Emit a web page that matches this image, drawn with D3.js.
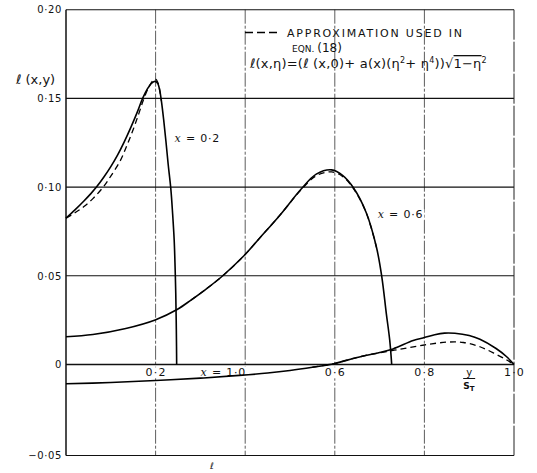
<!DOCTYPE html>
<html>
<head>
<meta charset="utf-8">
<script src="https://cdnjs.cloudflare.com/ajax/libs/d3/7.8.5/d3.min.js"></script>
<style>
  html, body { margin: 0; padding: 0; background: #fff; }
  svg { display: block; }
  text { font-family: "DejaVu Sans", sans-serif; fill: #111; }
</style>
</head>
<body>
<svg id="chart" width="537" height="473"></svg>
<script>
// Spanwise distribution ℓ(x, y) against y/sT for three chordwise stations x.
// Each series is a list of [y/sT, ℓ] pairs.

const xTicks = [0.2, 0.6, 0.8, 1.0];
const xTickLabels = ["0·2", "0·6", "0·8", "1·0"];
const xGrid = [0.2, 0.4, 0.6, 0.8];
const yTicks = [-0.05, 0, 0.05, 0.10, 0.15, 0.20];
const yTickLabels = ["−0·05", "0", "0·05", "0·10", "0·15", "0·20"];

// x = 0.2 : exact and approximation
const exact02 = [
  [0, 0.0825], [0.02, 0.0872], [0.04, 0.0922], [0.055, 0.0962], [0.068, 0.1000],
  [0.085, 0.1058], [0.10, 0.1115], [0.115, 0.1180], [0.13, 0.1255], [0.145, 0.1338],
  [0.16, 0.1428], [0.171, 0.1500], [0.182, 0.1555], [0.192, 0.1588], [0.199, 0.1596],
  [0.205, 0.1583], [0.209, 0.1548], [0.213, 0.1485], [0.218, 0.1380], [0.223, 0.1260],
  [0.228, 0.1130], [0.234, 0.0990], [0.238, 0.0850], [0.2415, 0.0700], [0.2435, 0.0550],
  [0.245, 0.0400], [0.246, 0.0250], [0.2467, 0.0100], [0.247, 0]
];
const approx02 = [
  [0, 0.0825], [0.02, 0.0855], [0.04, 0.0890], [0.06, 0.0935], [0.083, 0.1000],
  [0.10, 0.1062], [0.121, 0.1148], [0.136, 0.1235], [0.15, 0.1325], [0.162, 0.1410],
  [0.172, 0.1485], [0.185, 0.1565], [0.195, 0.1603], [0.200, 0.1608], [0.205, 0.1590],
  [0.209, 0.1550], [0.213, 0.1485]
];

// x = 0.6 : exact and approximation
const exact06 = [
  [0, 0.0156], [0.06, 0.0169], [0.1335, 0.0203], [0.199, 0.0251], [0.248, 0.0310],
  [0.279, 0.0363], [0.309, 0.0418], [0.348, 0.0496], [0.396, 0.0610], [0.432, 0.0712],
  [0.4765, 0.0839], [0.525, 0.0989], [0.5586, 0.1073], [0.593, 0.1097], [0.618, 0.1065],
  [0.642, 0.0995], [0.670, 0.0857], [0.693, 0.0661], [0.705, 0.0493], [0.715, 0.0287],
  [0.7226, 0.0137], [0.727, 0]
];
const approx06 = [
  [0.279, 0.0363], [0.309, 0.0418], [0.348, 0.0496], [0.396, 0.0610], [0.432, 0.0712],
  [0.4765, 0.0839], [0.525, 0.0985], [0.5586, 0.1064], [0.593, 0.1086], [0.62, 0.1055],
  [0.642, 0.0990], [0.670, 0.0857], [0.693, 0.0661]
];

// x = 1.0 : exact and approximation
const exact10 = [
  [0, -0.0106], [0.1, -0.0099], [0.2, -0.0088], [0.3, -0.0075], [0.387, -0.0060],
  [0.45, -0.0047], [0.5, -0.0033], [0.55, -0.0015], [0.6, 0.0006], [0.65, 0.0040],
  [0.7, 0.0068], [0.73, 0.0088], [0.775, 0.0135], [0.8, 0.0152], [0.823, 0.0168],
  [0.845, 0.0177], [0.868, 0.0176], [0.9, 0.0163], [0.924, 0.0142], [0.96, 0.0090],
  [0.983, 0.0045], [1.0, 0]
];
const approx10 = [
  [0.55, -0.0015], [0.6, 0.0006], [0.65, 0.0040], [0.7, 0.0066], [0.75, 0.0088],
  [0.8, 0.0110], [0.85, 0.0126], [0.887, 0.0124], [0.924, 0.0100], [0.9605, 0.0057],
  [0.983, 0.0027], [1.0, 0]
];

const svg = d3.select("#chart");

const x = d3.scaleLinear().domain([0, 1]).range([66, 514]);
const y = d3.scaleLinear().domain([-0.05, 0, 0.20]).range([455.5, 364.5, 9.7]);

// vertical grid (broken thin rules)
svg.append("g").selectAll("line").data(xGrid).join("line")
  .attr("x1", d => x(d)).attr("x2", d => x(d))
  .attr("y1", y(0.20)).attr("y2", y(-0.05))
  .attr("stroke", "#333").attr("stroke-width", 0.8)
  .attr("stroke-dasharray", "14,2,3,2");

// horizontal rules
svg.append("g").selectAll("line").data(yTicks).join("line")
  .attr("x1", x(0)).attr("x2", x(1))
  .attr("y1", d => y(d)).attr("y2", d => y(d))
  .attr("stroke", "#111")
  .attr("stroke-width", d => d === 0 ? 1.6 : 1.1);

// left axis and right border
svg.append("line").attr("x1", x(0)).attr("x2", x(0))
  .attr("y1", y(0.20)).attr("y2", y(-0.05))
  .attr("stroke", "#111").attr("stroke-width", 1.5);
svg.append("line").attr("x1", x(1)).attr("x2", x(1))
  .attr("y1", y(0.20)).attr("y2", y(-0.05))
  .attr("stroke", "#222").attr("stroke-width", 1)
  .attr("stroke-dasharray", "30,2");

// y tick labels
const yAxis = d3.axisLeft(y).tickValues(yTicks)
  .tickFormat((d, i) => yTickLabels[i]).tickSize(0).tickPadding(4);
const gy = svg.append("g").attr("transform", `translate(${x(0)},0)`).call(yAxis);
gy.select(".domain").remove();
gy.selectAll("text").style("font-size", "10px").style("font-family", "DejaVu Sans")
  .attr("letter-spacing", "0.6");

// x tick labels just under the zero line, on a white ground that breaks the rules
const xAxis = d3.axisBottom(x).tickValues(xTicks)
  .tickFormat((d, i) => xTickLabels[i]).tickSize(0).tickPadding(3);
const gx = svg.append("g").attr("transform", `translate(0,${y(0) + 1})`).call(xAxis);
gx.select(".domain").remove();
gx.selectAll("text").style("font-size", "11px").style("font-family", "DejaVu Sans")
  .attr("letter-spacing", "1.2");
gx.selectAll(".tick").filter(d => d < 1).each(function () {
  const t = d3.select(this).select("text");
  const b = t.node().getBBox();
  d3.select(this).insert("rect", "text")
    .attr("x", b.x - 1).attr("y", b.y + 1)
    .attr("width", b.width + 2).attr("height", b.height - 2).attr("fill", "#fff");
});

// curve labels (placed under the curves so the curves stay whole)
const curveLabels = [
  { t: "0·2", px: 0.2, py: 0.1255, dx: 19 },
  { t: "0·6", px: 0.6, py: 0.0825, dx: 43 },
  { t: "1·0", px: 0.2, py: -0.0063, dx: 45 }
];
const lab = svg.append("g");
curveLabels.forEach(c => {
  const tx = lab.append("text")
    .attr("x", x(c.px) + c.dx).attr("y", y(c.py))
    .style("font-size", "11px").attr("letter-spacing", "0.8");
  tx.append("tspan").style("font-family", "DejaVu Serif").style("font-style", "italic").text("x");
  tx.append("tspan").text(" = " + c.t);
});
lab.selectAll("text").each(function () {
  const b = this.getBBox();
  lab.insert("rect", "text").attr("x", b.x - 1).attr("y", b.y + 1)
    .attr("width", b.width + 2).attr("height", b.height - 2).attr("fill", "#fff");
});

// curves
const line = d3.line().x(d => x(d[0])).y(d => y(d[1])).curve(d3.curveCatmullRom.alpha(0.5));
const solid = [exact02, exact06, exact10];
const dashed = [approx02, approx06, approx10];
svg.append("g").selectAll("path").data(solid).join("path")
  .attr("d", line).attr("fill", "none").attr("stroke", "#000")
  .attr("stroke-width", 1.6).attr("stroke-linejoin", "round");
svg.append("g").selectAll("path").data(dashed).join("path")
  .attr("d", line).attr("fill", "none").attr("stroke", "#000")
  .attr("stroke-width", 1.3).attr("stroke-dasharray", "6,4");

// y/sT on the abscissa
const fx = x(0.9);
svg.append("text").attr("x", fx).attr("y", y(0) + 11).attr("text-anchor", "middle")
  .style("font-size", "10px").text("y");
svg.append("line").attr("x1", fx - 6).attr("x2", fx + 6)
  .attr("y1", y(0) + 14).attr("y2", y(0) + 14).attr("stroke", "#111").attr("stroke-width", 1);
const st = svg.append("text").attr("x", fx - 6).attr("y", y(0) + 24)
  .style("font-size", "9px").style("font-weight", "bold");
st.append("tspan").text("S");
st.append("tspan").attr("dy", 2).style("font-size", "7px").text("T");

// ordinate title
svg.append("text").attr("x", 16).attr("y", 84).style("font-size", "13px")
  .text("ℓ (x,y)");

// small mark under the abscissa
svg.append("text").attr("x", 212).attr("y", 469).attr("text-anchor", "middle")
  .style("font-size", "9px").text("ℓ");

// key
svg.append("line").attr("x1", 245).attr("x2", 278).attr("y1", 32.5).attr("y2", 32.5)
  .attr("stroke", "#000").attr("stroke-width", 1.3).attr("stroke-dasharray", "8,4");
svg.append("text").attr("x", 287).attr("y", 37).style("font-size", "11px")
  .attr("textLength", 175).attr("lengthAdjust", "spacing")
  .text("APPROXIMATION USED IN");
const eq = svg.append("text").attr("x", 292).attr("y", 52).style("font-size", "9px");
eq.append("tspan").text("EQN. ");
eq.append("tspan").style("font-size", "12px").text("(18)");

const f = svg.append("text").attr("x", 250).attr("y", 68).style("font-size", "13px")
  .attr("letter-spacing", "0.2");
f.append("tspan").text("ℓ(x,η)=(ℓ (x,0)+ a(x)(η");
f.append("tspan").attr("dy", -5).style("font-size", "8px").text("2");
f.append("tspan").attr("dy", 5).text("+ η");
f.append("tspan").attr("dy", -5).style("font-size", "8px").text("4");
f.append("tspan").attr("dy", 5).text("))√");
f.append("tspan").style("text-decoration", "overline").text("1−η");
f.append("tspan").attr("dy", -5).style("font-size", "8px").text("2");
</script>
</body>
</html>
